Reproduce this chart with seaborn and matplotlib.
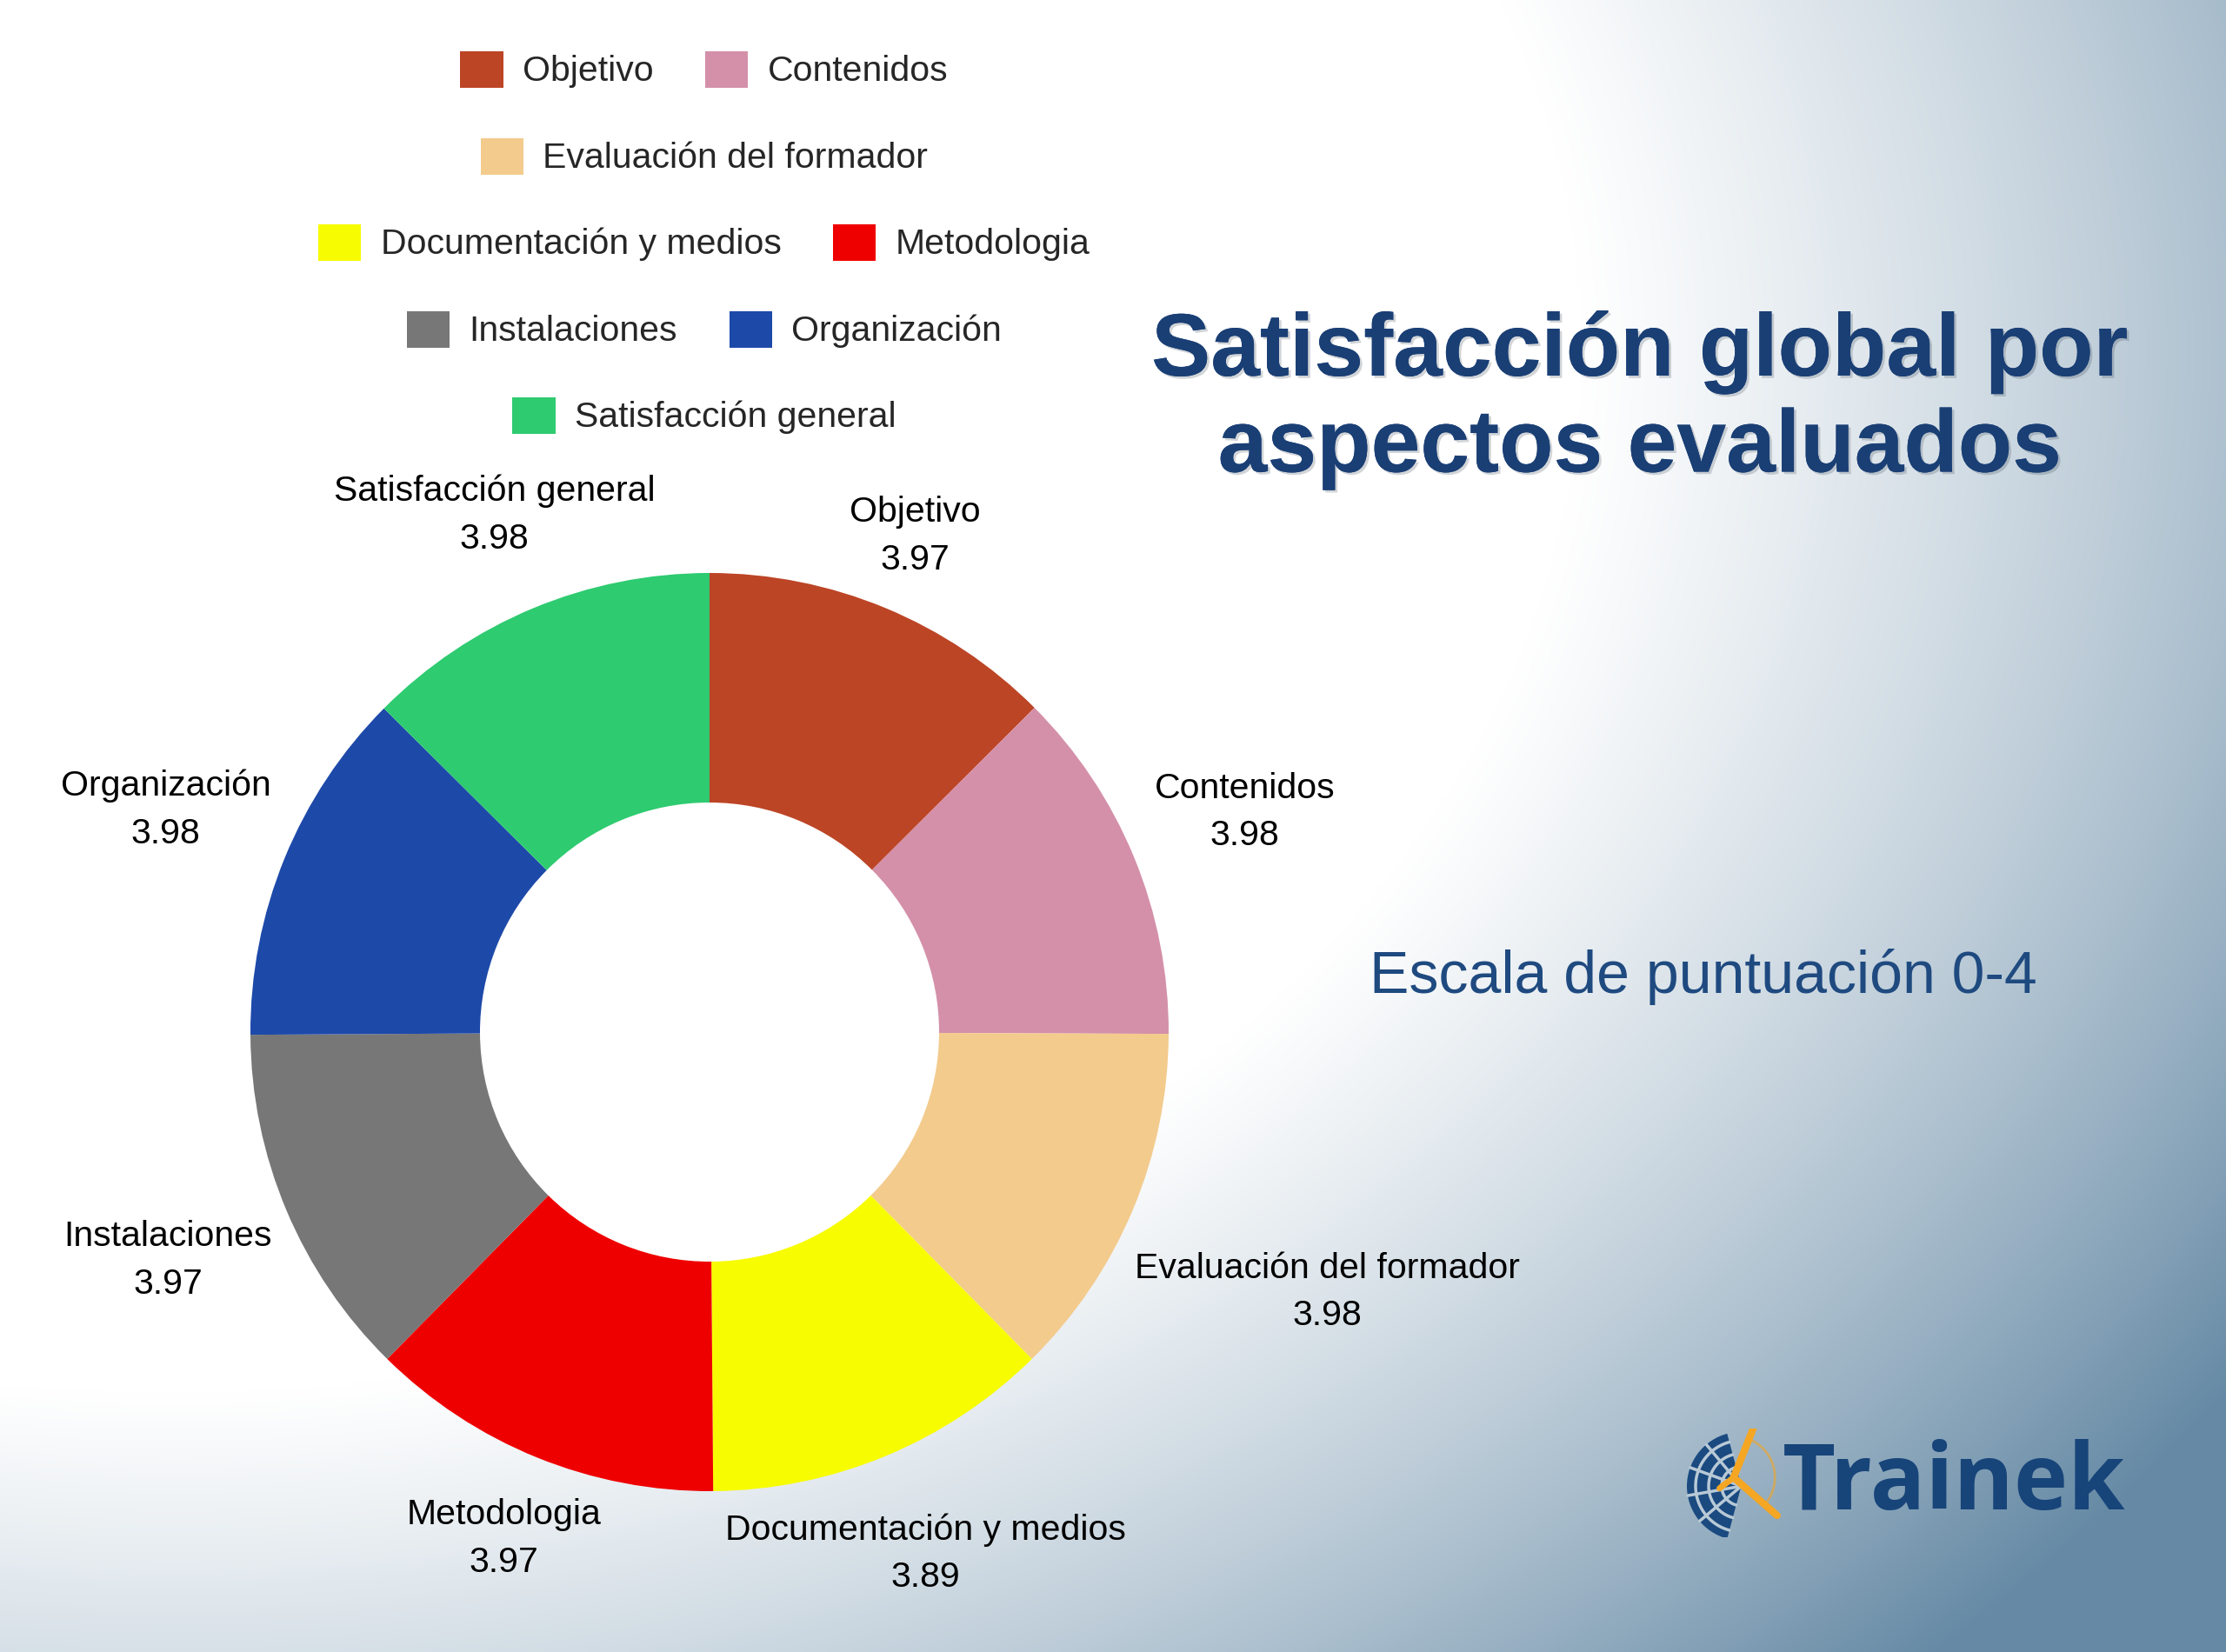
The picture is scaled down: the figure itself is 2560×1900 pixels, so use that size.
import numpy as np
import matplotlib
matplotlib.use("Agg")
import matplotlib.pyplot as plt
import matplotlib.patheffects as pe
from matplotlib.patches import Wedge
import seaborn as sns

# data
aspects = ["Objetivo", "Contenidos", "Evaluación del formador", "Documentación y medios",
           "Metodologia", "Instalaciones", "Organización", "Satisfacción general"]
scores = [3.97, 3.98, 3.98, 3.89, 3.97, 3.97, 3.98, 3.98]
colors = ["#bc4526", "#d490a9", "#f3cb8d", "#f8fc00", "#ef0000", "#777777", "#1d49a9", "#2ecb70"]
legend_rows = [2, 1, 2, 2, 1]

sns.set_theme(style="white")
plt.rcParams['font.family'] = ['Liberation Sans', 'DejaVu Sans']
palette = sns.color_palette(colors)

W, H = 2560, 1900
fig = plt.figure(figsize=(25.6, 19), dpi=100)

# background gradient
bg = fig.add_axes([0, 0, 1, 1], zorder=-10)
yy, xx = np.mgrid[0:H:4, 0:W:4]
d2 = ((xx - 200) / W) ** 2 + ((yy - 400) / 1900) ** 2
t = np.clip((d2 - 0.4) / 0.85, 0, 1)[..., None]
c0 = np.array([1.0, 1.0, 1.0])
c1 = np.array([0x66, 0x8a, 0xa5]) / 255
bg.imshow(c0 * (1 - t) + c1 * t, extent=[0, 1, 0, 1], aspect="auto", interpolation="bilinear")
bg.axis("off")

# donut
cx, cy, r = 816, 1187, 528
lim = 1.5
s = 2 * lim * r
ax = fig.add_axes([(cx - s / 2) / W, (H - cy - s / 2) / H, s / W, s / H])
wedges, _ = ax.pie(scores, colors=palette, startangle=90, counterclock=False,
                   radius=1, wedgeprops=dict(width=0.5, linewidth=0))
ax.set_xlim(-lim, lim)
ax.set_ylim(-lim, lim)
ax.set_aspect("equal")
ax.axis("off")

label_r = [1.17, 1.26, 1.46, 1.23, 1.19, 1.28, 1.28, 1.22]
for w, name, val, lr in zip(wedges, aspects, scores, label_r):
    ang = np.deg2rad((w.theta1 + w.theta2) / 2)
    ax.text(lr * np.cos(ang), lr * np.sin(ang), f"{name}\n{val:.2f}",
            ha="center", va="center", fontsize=29.5, linespacing=1.55,
            multialignment="center", color="black")

# legend, wrapped in centred rows
row_y = [80, 180, 279, 379, 478]
start = 0
for n, y in zip(legend_rows, row_y):
    fig.legend(wedges[start:start + n], aspects[start:start + n], loc="center",
               bbox_to_anchor=(810 / W, 1 - y / H), ncol=n, frameon=False,
               fontsize=29.5, handlelength=1.2, handleheight=1.2,
               handletextpad=0.55, columnspacing=1.45, borderpad=0, borderaxespad=0)
    start += n

# titles
shadow = [pe.withSimplePatchShadow(offset=(2, -2), alpha=0.2, shadow_rgbFace="#203040"), pe.Normal()]
fig.text(1886 / W, 1 - 405 / H, "Satisfacción global por", ha="center", va="center",
         fontsize=73.5, fontweight="bold", color="#1a3f75", path_effects=shadow)
fig.text(1886 / W, 1 - 516 / H, "aspectos evaluados", ha="center", va="center",
         fontsize=73.5, fontweight="bold", color="#1a3f75", path_effects=shadow)
fig.text(1959 / W, 1 - 1123 / H, "Escala de puntuación 0-4", ha="center", va="center",
         fontsize=49, color="#1f4a80")

# logo
fig.text(2050 / W, 1 - 1708 / H, "Trainek", ha="left", va="center", fontsize=76,
         fontweight="bold", color="#174479", family=["Open Sans", "DejaVu Sans"])
lg = fig.add_axes([1925 / W, 1 - 1768 / H, 125 / W, 125 / H])
lg.set_xlim(0, 1)
lg.set_ylim(0, 1)
lg.axis("off")
lg.add_patch(Wedge((0.62, 0.47), 0.5, 105, 255, width=0.5, facecolor="#1a4a80", linewidth=0))
for a in np.deg2rad([130, 160, 190, 220]):
    lg.plot([0.62, 0.62 + 0.5 * np.cos(a)], [0.47, 0.47 + 0.5 * np.sin(a)], color="#b8c9d6", lw=2.5)
for rr in [0.18, 0.3, 0.42]:
    th = np.linspace(np.deg2rad(105), np.deg2rad(255), 40)
    lg.plot(0.62 + rr * np.cos(th), 0.47 + rr * np.sin(th), color="#b8c9d6", lw=2.5)
lg.plot([0.55, 0.73], [0.55, 1.0], color="#f5a623", lw=6, solid_capstyle="round")
lg.plot([0.55, 0.95], [0.55, 0.2], color="#f5a623", lw=6, solid_capstyle="round")
lg.plot([0.55, 0.42], [0.55, 0.45], color="#f5a623", lw=5, solid_capstyle="round")
th = np.linspace(np.deg2rad(-40), np.deg2rad(70), 30)
lg.plot(0.55 + 0.38 * np.cos(th), 0.55 + 0.38 * np.sin(th), color="#f5a623", lw=2, alpha=0.6)

fig.savefig("out.png", dpi=100)
